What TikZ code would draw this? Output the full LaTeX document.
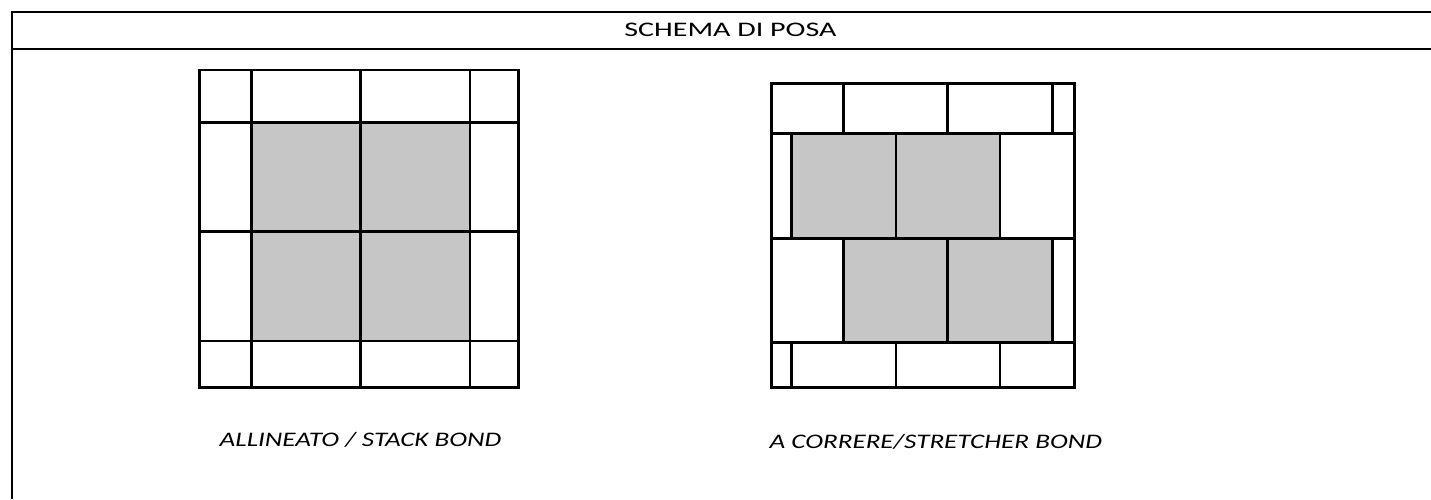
\documentclass[tikz,border=0pt]{standalone}
\usepackage{fontspec}
\setmainfont{Carlito}
\newfontfamily\headfont[FakeStretch=1.45]{Carlito}
\newfontfamily\capfont[FakeStretch=1.31]{Carlito}
\definecolor{tilegrey}{RGB}{198,198,198}
\tikzset{
  frameline/.style={line width=2pt},
  joint/.style={line width=2.6pt},
  tilefill/.style={fill=tilegrey},
  caption/.style={anchor=base, inner sep=0pt, font=\capfont\itshape\fontsize{20.7}{24}\selectfont},
  heading/.style={anchor=base, inner sep=0pt, font=\headfont\fontsize{20.7}{24}\selectfont}
}
\begin{document}
\begin{tikzpicture}[x=1pt,y=-1pt]
  \useasboundingbox (0,0) rectangle (1431,499);
  % frame
  \draw[frameline] (1431,12) -- (12,12) -- (12,499);
  \draw[frameline] (12,49) -- (1431,49);
  \node[heading] (title) at (730.5,36.7) {SCHEMA DI POSA};

  % stack bond
  \fill[tilefill] (251.7,122.3) rectangle (470,341);
  \begin{scope}[joint]
    \draw (199.5,70) rectangle (518.3,387.3);
    \draw (199.5,122.3) -- (518.3,122.3);
    \draw (199.5,231.7) -- (518.3,231.7);
    \draw (199.5,341) -- (518.3,341);
    \draw (251.7,70) -- (251.7,387.3);
    \draw (360.7,70) -- (360.7,387.3);
    \draw (470,70) -- (470,387.3);
  \end{scope}
  \node[caption] (stack) at (360.5,446.3) {ALLINEATO / STACK BOND};

  % stretcher bond
  \fill[tilefill] (791.7,133.3) rectangle (1000,238.3);
  \fill[tilefill] (843.3,238.3) rectangle (1052.3,342.7);
  \begin{scope}[joint]
    \draw (771.7,83.3) rectangle (1074.3,387.3);
    \draw (771.7,133.3) -- (1074.3,133.3);
    \draw (771.7,238.3) -- (1074.3,238.3);
    \draw (771.7,342.7) -- (1074.3,342.7);
    \draw (843.3,83.3) -- (843.3,133.3);
    \draw (947.3,83.3) -- (947.3,133.3);
    \draw (1052.3,83.3) -- (1052.3,133.3);
    \draw (791.7,133.3) -- (791.7,238.3);
    \draw (896,133.3) -- (896,238.3);
    \draw (1000,133.3) -- (1000,238.3);
    \draw (843.3,238.3) -- (843.3,342.7);
    \draw (947.7,238.3) -- (947.7,342.7);
    \draw (1052.3,238.3) -- (1052.3,342.7);
    \draw (791.7,342.7) -- (791.7,387.3);
    \draw (896,342.7) -- (896,387.3);
    \draw (1000,342.7) -- (1000,387.3);
  \end{scope}
  \node[caption] (stretcher) at (935.8,448.5) {A CORRERE/STRETCHER BOND};
\end{tikzpicture}
\end{document}
